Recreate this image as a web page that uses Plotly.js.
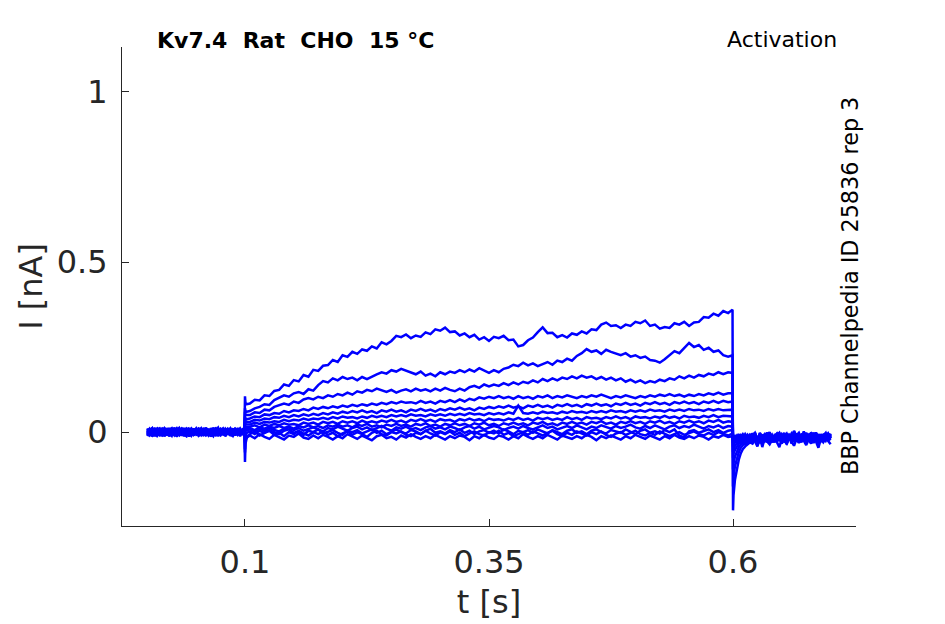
<!DOCTYPE html>
<html>
<head>
<meta charset="utf-8">
<script src="https://cdn.plot.ly/plotly-3.0.1.min.js"></script>
<style>
  html, body { margin: 0; padding: 0; background: #ffffff; }
  #chart { width: 945px; height: 624px; }
</style>
</head>
<body>
<div id="chart"></div>
<script>
/* --------------------------------------------------------------------------
   Kv7.4 activation sweeps, current (nA) against time (s), one array per sweep.
   Every sweep has 40 pre-pulse points, 4 around the 0.1 s step, 99 points
   during the pulse and 44 from the 0.6 s step to the end of the record.
   -------------------------------------------------------------------------- */

const time_s = [
  0, 0.0025, 0.005, 0.0075, 0.01, 0.0125, 0.015, 0.0175, 0.02, 0.0225, 0.025, 0.0275, 0.03, 0.0325, 0.035, 0.0375, 0.04, 0.0425, 0.045, 0.0475,
  0.05, 0.0525, 0.055, 0.0575, 0.06, 0.0625, 0.065, 0.0675, 0.07, 0.0725, 0.075, 0.0775, 0.08, 0.0825, 0.085, 0.0875, 0.09, 0.0925, 0.095, 0.0975,
  0.0995, 0.1, 0.1005, 0.102,
  0.105, 0.11, 0.115, 0.12, 0.125, 0.13, 0.135, 0.14, 0.145, 0.15,
  0.155, 0.16, 0.165, 0.17, 0.175, 0.18, 0.185, 0.19, 0.195, 0.2,
  0.205, 0.21, 0.215, 0.22, 0.225, 0.23, 0.235, 0.24, 0.245, 0.25,
  0.255, 0.26, 0.265, 0.27, 0.275, 0.28, 0.285, 0.29, 0.295, 0.3,
  0.305, 0.31, 0.315, 0.32, 0.325, 0.33, 0.335, 0.34, 0.345, 0.35,
  0.355, 0.36, 0.365, 0.37, 0.375, 0.38, 0.385, 0.39, 0.395, 0.4,
  0.405, 0.41, 0.415, 0.42, 0.425, 0.43, 0.435, 0.44, 0.445, 0.45,
  0.455, 0.46, 0.465, 0.47, 0.475, 0.48, 0.485, 0.49, 0.495, 0.5,
  0.505, 0.51, 0.515, 0.52, 0.525, 0.53, 0.535, 0.54, 0.545, 0.55,
  0.555, 0.56, 0.565, 0.57, 0.575, 0.58, 0.585, 0.59, 0.595,
  0.5995, 0.6, 0.6005, 0.602, 0.604, 0.606, 0.608, 0.61,
  0.6125, 0.615, 0.6175, 0.62, 0.6225, 0.625, 0.6275, 0.63, 0.6325, 0.635, 0.6375, 0.64, 0.6425, 0.645, 0.6475, 0.65, 0.6525, 0.655,
  0.6575, 0.66, 0.6625, 0.665, 0.6675, 0.67, 0.6725, 0.675, 0.6775, 0.68, 0.6825, 0.685, 0.6875, 0.69, 0.6925, 0.695, 0.6975, 0.7,
];

const sweepA = [
  0.004, -0.006, 0.009, 0.001, -0.009, 0.006, -0.002, 0.011, 0.003, -0.007, 0.005, -0.001, -0.011, 0.008, 0.002, -0.004, 0.012, -0.003, 0.006, -0.008,
  0.000, 0.007, -0.005, 0.010, -0.002, -0.010, 0.004, 0.008, -0.006, 0.002, 0.009, -0.004, -0.008, 0.005, 0.001, 0.011, -0.007, 0.003, -0.003, 0.006,
  0.002, 0.105, 0.086, 0.082,
  0.084, 0.095, 0.093, 0.108, 0.106, 0.121, 0.124, 0.140, 0.136, 0.153,
  0.149, 0.168, 0.163, 0.183, 0.180, 0.195, 0.197, 0.212, 0.206, 0.226,
  0.221, 0.236, 0.230, 0.243, 0.239, 0.252, 0.246, 0.264, 0.258, 0.268,
  0.283, 0.279, 0.287, 0.276, 0.284, 0.280, 0.293, 0.288, 0.302, 0.298,
  0.307, 0.294, 0.296, 0.284, 0.290, 0.279, 0.286, 0.272, 0.279, 0.268,
  0.280, 0.276, 0.283, 0.270, 0.272, 0.252, 0.256, 0.270, 0.278, 0.294,
  0.308, 0.291, 0.292, 0.279, 0.285, 0.278, 0.290, 0.286, 0.296, 0.290,
  0.302, 0.300, 0.316, 0.322, 0.312, 0.314, 0.306, 0.316, 0.312, 0.324,
  0.320, 0.328, 0.312, 0.316, 0.304, 0.309, 0.306, 0.320, 0.316, 0.324,
  0.312, 0.322, 0.324, 0.338, 0.336, 0.348, 0.342, 0.356, 0.350,
  0.360, -0.230, -0.185, -0.140, -0.105, -0.080, -0.062, -0.050,
  -0.042, -0.036, -0.030, -0.034, -0.022, -0.028, -0.016, -0.024, -0.012, -0.030, -0.018, -0.008, -0.022, -0.014, -0.026, -0.006, -0.018, -0.032,
  -0.010, -0.020, -0.004, -0.016, -0.028, -0.012, -0.022, -0.006, -0.018, -0.034, -0.012, -0.002, -0.020, -0.010, -0.026, -0.014, -0.004, -0.018,
];

const sweepB = [
  -0.005, 0.008, -0.012, 0.003, 0.010, -0.007, 0.001, -0.010, 0.012, -0.001, -0.004, 0.013, -0.008, 0.005, -0.011, 0.007, 0.000, 0.009, -0.006, 0.003,
  0.011, -0.003, -0.009, 0.006, -0.001, 0.010, -0.012, 0.004, 0.007, -0.005, -0.002, 0.012, -0.008, 0.002, 0.009, -0.010, 0.005, -0.004, 0.001, 0.008,
  -0.002, 0.070, 0.062, 0.060,
  0.062, 0.070, 0.074, 0.082, 0.080, 0.094, 0.100, 0.108, 0.104, 0.114,
  0.118, 0.112, 0.126, 0.122, 0.138, 0.150, 0.146, 0.158, 0.152, 0.162,
  0.156, 0.160, 0.152, 0.162, 0.156, 0.164, 0.170, 0.176, 0.172, 0.182,
  0.178, 0.186, 0.180, 0.176, 0.170, 0.178, 0.166, 0.172, 0.164, 0.176,
  0.170, 0.178, 0.174, 0.182, 0.176, 0.184, 0.178, 0.188, 0.180, 0.174,
  0.182, 0.176, 0.186, 0.190, 0.198, 0.194, 0.204, 0.196, 0.202, 0.194,
  0.200, 0.206, 0.198, 0.210, 0.206, 0.216, 0.210, 0.224, 0.232, 0.244,
  0.236, 0.240, 0.230, 0.242, 0.236, 0.230, 0.226, 0.232, 0.222, 0.226,
  0.218, 0.222, 0.212, 0.210, 0.204, 0.214, 0.226, 0.238, 0.232, 0.246,
  0.262, 0.250, 0.256, 0.242, 0.248, 0.236, 0.240, 0.226, 0.222,
  0.226, -0.160, -0.132, -0.100, -0.076, -0.058, -0.046, -0.038,
  -0.030, -0.024, -0.018, -0.028, -0.012, -0.022, -0.008, -0.026, -0.016, -0.004, -0.020, -0.030, -0.010, -0.018, -0.002, -0.024, -0.014, -0.036,
  -0.012, -0.020, -0.006, -0.026, -0.016, -0.008, -0.022, -0.030, -0.012, -0.004, -0.018, -0.010, -0.026, -0.014, -0.020, -0.006, -0.016, -0.024,
];

const sweepC = [
  0.009, -0.003, 0.005, -0.011, 0.002, 0.012, -0.007, 0.004, -0.002, 0.008, -0.010, 0.005, 0.011, -0.005, 0.000, -0.012, 0.007, 0.003, -0.009, 0.010,
  -0.004, 0.001, 0.008, -0.008, 0.013, -0.002, -0.006, 0.006, -0.011, 0.003, 0.009, -0.001, -0.007, 0.011, -0.003, 0.004, -0.010, 0.007, 0.000, -0.005,
  0.003, 0.060, 0.052, 0.050,
  0.050, 0.058, 0.056, 0.066, 0.064, 0.074, 0.078, 0.084, 0.080, 0.090,
  0.086, 0.096, 0.100, 0.096, 0.104, 0.100, 0.108, 0.104, 0.112, 0.108,
  0.116, 0.110, 0.120, 0.116, 0.124, 0.120, 0.128, 0.122, 0.118, 0.124,
  0.116, 0.122, 0.126, 0.120, 0.128, 0.122, 0.126, 0.120, 0.128, 0.122,
  0.130, 0.124, 0.120, 0.128, 0.122, 0.132, 0.136, 0.130, 0.140, 0.134,
  0.140, 0.136, 0.144, 0.138, 0.146, 0.140, 0.148, 0.144, 0.152, 0.146,
  0.156, 0.150, 0.158, 0.152, 0.160, 0.156, 0.164, 0.158, 0.166, 0.160,
  0.164, 0.156, 0.162, 0.154, 0.160, 0.152, 0.158, 0.148, 0.154, 0.146,
  0.152, 0.144, 0.150, 0.146, 0.154, 0.150, 0.158, 0.154, 0.164, 0.158,
  0.166, 0.160, 0.168, 0.164, 0.172, 0.168, 0.176, 0.170, 0.176,
  0.174, -0.110, -0.092, -0.072, -0.056, -0.044, -0.036, -0.030,
  -0.024, -0.032, -0.018, -0.026, -0.010, -0.022, -0.030, -0.014, -0.006, -0.020, -0.028, -0.012, -0.024, -0.004, -0.016, -0.034, -0.014, -0.022,
  -0.008, -0.018, -0.028, -0.010, -0.002, -0.020, -0.014, -0.026, -0.008, -0.018, -0.032, -0.012, -0.022, -0.006, -0.016, -0.026, -0.012, -0.020,
];

const sweepD = [
  -0.008, 0.004, 0.011, -0.002, -0.010, 0.007, 0.000, -0.005, 0.010, -0.012, 0.003, 0.009, -0.004, -0.009, 0.012, 0.002, -0.007, 0.005, 0.011, -0.003,
  0.006, -0.011, 0.001, 0.008, -0.006, 0.003, -0.009, 0.013, -0.001, -0.005, 0.007, -0.003, 0.010, -0.008, 0.002, -0.012, 0.005, 0.009, -0.004, 0.001,
  0.000, 0.045, 0.040, 0.038,
  0.040, 0.046, 0.044, 0.052, 0.050, 0.056, 0.054, 0.062, 0.058, 0.064,
  0.062, 0.068, 0.064, 0.072, 0.068, 0.074, 0.070, 0.076, 0.072, 0.078,
  0.074, 0.080, 0.076, 0.082, 0.078, 0.084, 0.080, 0.086, 0.082, 0.088,
  0.084, 0.090, 0.086, 0.088, 0.084, 0.092, 0.086, 0.090, 0.084, 0.092,
  0.088, 0.094, 0.088, 0.096, 0.090, 0.098, 0.094, 0.102, 0.098, 0.104,
  0.100, 0.106, 0.100, 0.104, 0.098, 0.106, 0.100, 0.104, 0.098, 0.106,
  0.102, 0.108, 0.100, 0.106, 0.102, 0.108, 0.104, 0.100, 0.106, 0.102,
  0.108, 0.104, 0.110, 0.104, 0.100, 0.106, 0.102, 0.108, 0.104, 0.100,
  0.106, 0.102, 0.108, 0.104, 0.110, 0.106, 0.112, 0.106, 0.110, 0.104,
  0.110, 0.106, 0.112, 0.108, 0.114, 0.110, 0.116, 0.110, 0.114,
  0.114, -0.075, -0.064, -0.052, -0.042, -0.034, -0.028, -0.024,
  -0.018, -0.028, -0.012, -0.022, -0.006, -0.020, -0.030, -0.010, -0.016, -0.002, -0.022, -0.014, -0.026, -0.008, -0.018, -0.032, -0.012, -0.004,
  -0.020, -0.010, -0.024, -0.016, -0.006, -0.028, -0.014, -0.020, -0.008, -0.024, -0.012, -0.002, -0.018, -0.026, -0.010, -0.016, -0.022, -0.008,
];

const sweepE = [
  0.003, -0.011, 0.007, 0.010, -0.003, -0.008, 0.012, 0.000, -0.007, 0.005, 0.011, -0.005, 0.002, 0.009, -0.010, 0.003, 0.010, -0.012, 0.000, 0.007,
  -0.004, 0.006, -0.009, 0.001, 0.012, -0.006, 0.004, -0.002, 0.008, -0.011, 0.005, -0.007, 0.010, 0.002, -0.004, 0.007, -0.009, 0.003, 0.011, -0.001,
  0.001, 0.036, 0.032, 0.030,
  0.030, 0.036, 0.034, 0.040, 0.038, 0.044, 0.042, 0.048, 0.044, 0.050,
  0.046, 0.052, 0.048, 0.054, 0.050, 0.056, 0.052, 0.058, 0.054, 0.060,
  0.056, 0.062, 0.058, 0.064, 0.058, 0.062, 0.056, 0.064, 0.060, 0.066,
  0.060, 0.064, 0.058, 0.066, 0.062, 0.068, 0.062, 0.066, 0.060, 0.068,
  0.064, 0.070, 0.066, 0.072, 0.066, 0.070, 0.064, 0.072, 0.068, 0.074,
  0.070, 0.076, 0.072, 0.078, 0.072, 0.076, 0.070, 0.078, 0.074, 0.080,
  0.074, 0.078, 0.072, 0.080, 0.076, 0.082, 0.076, 0.080, 0.074, 0.082,
  0.078, 0.084, 0.078, 0.082, 0.076, 0.084, 0.080, 0.086, 0.080, 0.084,
  0.078, 0.086, 0.082, 0.088, 0.082, 0.086, 0.080, 0.088, 0.084, 0.090,
  0.084, 0.088, 0.082, 0.090, 0.086, 0.092, 0.086, 0.092, 0.088,
  0.090, -0.058, -0.050, -0.040, -0.032, -0.026, -0.022, -0.018,
  -0.028, -0.012, -0.020, -0.006, -0.024, -0.014, -0.030, -0.008, -0.018, -0.002, -0.022, -0.012, -0.028, -0.016, -0.004, -0.020, -0.010, -0.026,
  -0.014, -0.034, -0.008, -0.018, -0.024, -0.006, -0.016, -0.028, -0.012, -0.002, -0.020, -0.010, -0.026, -0.014, -0.018, -0.006, -0.022, -0.012,
];

const sweepF = [
  -0.007, 0.010, 0.002, -0.010, 0.012, -0.002, -0.009, 0.008, 0.003, -0.012, 0.007, -0.003, 0.010, 0.000, -0.009, 0.012, -0.005, 0.002, 0.009, -0.010,
  0.004, -0.006, 0.011, -0.001, -0.008, 0.006, -0.012, 0.003, 0.009, -0.004, 0.001, 0.010, -0.007, 0.005, -0.002, -0.011, 0.008, 0.000, -0.005, 0.006,
  -0.001, 0.028, 0.024, 0.022,
  0.022, 0.028, 0.024, 0.030, 0.028, 0.032, 0.030, 0.036, 0.032, 0.036,
  0.034, 0.040, 0.036, 0.040, 0.038, 0.042, 0.038, 0.044, 0.040, 0.046,
  0.042, 0.044, 0.040, 0.046, 0.042, 0.048, 0.044, 0.048, 0.044, 0.050,
  0.046, 0.050, 0.046, 0.052, 0.048, 0.050, 0.046, 0.052, 0.048, 0.052,
  0.048, 0.054, 0.050, 0.054, 0.050, 0.056, 0.052, 0.054, 0.050, 0.056,
  0.052, 0.056, 0.052, 0.058, 0.054, 0.078, 0.056, 0.054, 0.058, 0.054,
  0.060, 0.056, 0.058, 0.054, 0.060, 0.056, 0.062, 0.058, 0.060, 0.056,
  0.062, 0.058, 0.062, 0.058, 0.064, 0.060, 0.062, 0.058, 0.064, 0.060,
  0.064, 0.060, 0.066, 0.062, 0.064, 0.060, 0.066, 0.062, 0.066, 0.062,
  0.068, 0.064, 0.066, 0.062, 0.068, 0.064, 0.068, 0.064, 0.066,
  0.066, -0.042, -0.036, -0.030, -0.024, -0.020, -0.016, -0.014,
  -0.022, -0.008, -0.018, -0.028, -0.010, -0.020, -0.004, -0.016, -0.026, -0.012, -0.006, -0.022, -0.014, -0.030, -0.008, -0.018, -0.002, -0.024,
  -0.012, -0.020, -0.006, -0.028, -0.016, -0.010, -0.022, -0.004, -0.018, -0.012, -0.026, -0.008, -0.016, -0.020, -0.010, -0.024, -0.006, -0.014,
];

const sweepG = [
  0.011, -0.005, -0.010, 0.007, 0.000, 0.010, -0.012, 0.005, -0.003, 0.012, -0.007, 0.002, -0.010, 0.008, 0.003, -0.009, 0.010, -0.003, -0.011, 0.005,
  -0.001, 0.008, -0.006, 0.012, -0.004, 0.001, -0.009, 0.006, 0.011, -0.002, -0.008, 0.004, -0.012, 0.007, 0.002, -0.005, 0.009, -0.001, -0.007, 0.003,
  0.000, 0.020, 0.016, 0.015,
  0.016, 0.020, 0.014, 0.022, 0.018, 0.024, 0.020, 0.026, 0.022, 0.024,
  0.020, 0.028, 0.024, 0.028, 0.022, 0.030, 0.026, 0.030, 0.024, 0.032,
  0.028, 0.032, 0.026, 0.034, 0.028, 0.032, 0.028, 0.034, 0.030, 0.036,
  0.030, 0.034, 0.028, 0.036, 0.032, 0.038, 0.032, 0.036, 0.030, 0.038,
  0.034, 0.036, 0.030, 0.038, 0.034, 0.040, 0.034, 0.038, 0.032, 0.040,
  0.036, 0.038, 0.034, 0.040, 0.036, 0.042, 0.036, 0.040, 0.034, 0.042,
  0.038, 0.042, 0.036, 0.040, 0.036, 0.044, 0.038, 0.042, 0.036, 0.044,
  0.040, 0.042, 0.038, 0.044, 0.040, 0.046, 0.040, 0.044, 0.038, 0.046,
  0.042, 0.044, 0.040, 0.046, 0.042, 0.048, 0.042, 0.046, 0.040, 0.048,
  0.044, 0.046, 0.042, 0.048, 0.044, 0.050, 0.044, 0.048, 0.046,
  0.046, -0.032, -0.028, -0.024, -0.020, -0.016, -0.014, -0.020,
  -0.010, -0.024, -0.014, -0.004, -0.020, -0.028, -0.008, -0.016, -0.026, -0.012, -0.002, -0.018, -0.030, -0.010, -0.020, -0.006, -0.016, -0.026,
  -0.012, -0.022, -0.004, -0.014, -0.032, -0.010, -0.018, -0.008, -0.024, -0.014, -0.002, -0.020, -0.012, -0.028, -0.006, -0.016, -0.022, -0.010,
];

const sweepH = [
  -0.010, 0.005, 0.012, -0.003, 0.007, -0.011, 0.003, 0.010, -0.008, 0.002, 0.005, -0.010, 0.012, -0.002, 0.007, -0.007, -0.012, 0.009, 0.003, -0.005,
  0.008, -0.004, 0.001, -0.009, 0.011, 0.004, -0.006, 0.000, 0.010, -0.012, 0.006, -0.002, -0.008, 0.009, 0.002, -0.005, 0.012, -0.009, 0.004, -0.001,
  0.002, 0.010, 0.012, 0.010,
  0.012, 0.006, 0.014, 0.010, 0.016, 0.012, 0.018, 0.012, 0.016, 0.010,
  0.018, 0.014, 0.020, 0.014, 0.018, 0.012, 0.020, 0.016, 0.022, 0.016,
  0.020, 0.014, 0.022, 0.018, 0.024, 0.016, 0.020, 0.014, 0.022, 0.018,
  0.024, 0.018, 0.022, 0.016, 0.024, 0.020, 0.026, 0.018, 0.022, 0.016,
  0.024, 0.020, 0.026, 0.020, 0.024, 0.018, 0.026, 0.022, 0.028, 0.020,
  0.024, 0.018, 0.026, 0.022, 0.028, 0.022, 0.026, 0.020, 0.028, 0.024,
  0.030, 0.022, 0.026, 0.020, 0.028, 0.024, 0.030, 0.024, 0.028, 0.022,
  0.030, 0.026, 0.032, 0.024, 0.028, 0.022, 0.030, 0.026, 0.032, 0.026,
  0.030, 0.024, 0.032, 0.028, 0.034, 0.026, 0.030, 0.024, 0.032, 0.028,
  0.034, 0.028, 0.032, 0.026, 0.034, 0.030, 0.036, 0.028, 0.032,
  0.030, -0.024, -0.020, -0.016, -0.012, -0.022, -0.010, -0.018,
  -0.006, -0.016, -0.026, -0.010, -0.002, -0.020, -0.012, -0.028, -0.008, -0.016, 0.000, -0.022, -0.014, -0.006, -0.024, -0.012, -0.030, -0.008,
  -0.018, -0.004, -0.014, -0.026, -0.010, -0.020, 0.002, -0.016, -0.008, -0.022, -0.012, -0.028, -0.006, -0.018, -0.010, -0.002, -0.020, -0.014,
];

const sweepI = [
  0.008, -0.009, 0.000, 0.011, -0.005, 0.003, 0.009, -0.010, 0.005, -0.002, -0.011, 0.007, 0.000, 0.010, -0.007, 0.005, 0.002, -0.010, 0.010, 0.000,
  -0.006, 0.012, -0.003, -0.008, 0.006, 0.001, -0.012, 0.004, 0.009, -0.004, -0.001, 0.007, -0.010, 0.003, 0.011, -0.006, 0.000, 0.008, -0.009, 0.005,
  -0.003, -0.030, 0.004, 0.006,
  0.008, 0.002, 0.010, 0.004, 0.012, 0.006, 0.002, 0.010, 0.014, 0.006,
  0.012, 0.004, 0.010, 0.014, 0.008, 0.002, 0.012, 0.008, 0.016, 0.010,
  0.004, 0.012, 0.016, 0.008, 0.014, 0.006, 0.012, 0.018, 0.010, 0.004,
  0.014, 0.010, 0.016, 0.008, 0.012, 0.006, 0.014, 0.018, 0.010, 0.014,
  0.008, 0.016, 0.012, 0.006, 0.014, 0.018, 0.010, 0.016, 0.008, 0.012,
  0.018, 0.014, 0.006, 0.012, 0.016, 0.010, 0.018, 0.012, 0.008, 0.014,
  0.020, 0.012, 0.016, 0.008, 0.014, 0.018, 0.012, 0.020, 0.014, 0.008,
  0.016, 0.012, 0.020, 0.014, 0.010, 0.018, 0.012, 0.016, 0.022, 0.014,
  0.010, 0.018, 0.012, 0.020, 0.014, 0.008, 0.016, 0.020, 0.012, 0.018,
  0.014, 0.022, 0.016, 0.010, 0.018, 0.014, 0.020, 0.012, 0.018,
  0.016, -0.018, -0.016, -0.012, -0.020, -0.010, -0.016, -0.008,
  -0.014, -0.024, -0.006, -0.018, -0.010, -0.028, -0.002, -0.016, -0.022, -0.008, -0.014, -0.030, -0.012, -0.004, -0.020, -0.010, -0.026, -0.016,
  -0.006, -0.022, 0.004, -0.014, -0.024, -0.010, -0.018, -0.002, -0.016, -0.028, -0.012, -0.006, -0.020, -0.014, -0.026, -0.008, -0.018, -0.004,
];

const sweepJ = [
  -0.003, 0.010, -0.012, 0.002, 0.009, -0.007, -0.002, 0.012, -0.010, 0.007, 0.000, -0.009, 0.005, 0.012, -0.005, 0.000, -0.010, 0.007, -0.002, 0.009,
  -0.006, 0.003, 0.011, -0.008, 0.001, -0.004, 0.008, -0.011, 0.004, 0.013, -0.003, -0.007, 0.006, 0.000, -0.009, 0.010, -0.001, 0.005, -0.012, 0.002,
  0.000, -0.060, -0.012, -0.002,
  0.002, -0.006, 0.004, -0.002, 0.006, 0.000, -0.006, 0.004, 0.008, -0.002,
  0.002, -0.008, 0.004, 0.000, 0.008, -0.004, 0.002, 0.006, -0.002, -0.008,
  0.004, 0.000, 0.006, -0.004, 0.002, 0.008, -0.002, 0.004, -0.006, 0.002,
  0.008, 0.000, -0.004, 0.006, 0.002, -0.006, 0.004, 0.010, -0.002, 0.002,
  -0.004, 0.006, 0.000, 0.008, -0.002, 0.004, -0.006, 0.002, 0.006, -0.002,
  0.004, -0.004, 0.008, 0.002, -0.006, 0.004, 0.000, 0.006, -0.002, 0.008,
  0.002, -0.004, 0.006, 0.000, -0.006, 0.004, 0.008, -0.002, 0.002, -0.006,
  0.004, 0.008, 0.000, -0.004, 0.006, 0.002, -0.002, 0.008, 0.000, -0.006,
  0.004, 0.008, -0.002, 0.002, -0.004, 0.006, 0.000, 0.008, -0.010, -0.016,
  0.002, 0.006, -0.002, 0.004, 0.008, 0.000, 0.006, -0.002, 0.004,
  0.006, -0.016, -0.014, -0.018, -0.010, -0.020, -0.012, -0.006,
  -0.018, -0.028, -0.008, -0.014, -0.002, -0.022, -0.012, -0.044, -0.016, -0.004, -0.020, -0.010, -0.026, -0.014, -0.006, -0.024, -0.012, -0.032,
  -0.008, -0.016, 0.002, -0.020, -0.012, -0.026, -0.006, -0.018, -0.010, -0.030, -0.014, -0.004, -0.022, -0.012, -0.018, -0.008, -0.024, -0.014,
];

const sweepK = [
  0.005, -0.007, 0.009, -0.012, 0.003, 0.010, -0.009, 0.002, 0.007, -0.005, 0.012, -0.003, -0.010, 0.003, 0.010, -0.007, 0.005, -0.013, 0.002, 0.007,
  -0.004, 0.009, -0.001, -0.011, 0.006, -0.006, 0.011, 0.000, -0.008, 0.004, -0.002, 0.010, -0.009, 0.001, 0.008, -0.012, 0.003, 0.006, -0.005, 0.000,
  0.000, -0.088, -0.034, -0.014,
  -0.006, 0.002, -0.010, -0.002, 0.004, -0.008, -0.002, -0.012, 0.000, -0.006,
  0.004, -0.004, -0.010, 0.000, -0.006, 0.002, -0.008, -0.002, -0.012, -0.004,
  0.002, -0.008, 0.000, -0.006, -0.014, -0.002, 0.004, -0.006, -0.010, 0.000,
  -0.004, 0.002, -0.008, -0.012, -0.002, -0.006, 0.004, -0.004, -0.010, 0.000,
  -0.006, 0.002, -0.008, -0.002, -0.012, -0.004, 0.002, -0.006, -0.010, 0.000,
  -0.004, 0.004, -0.008, -0.002, -0.012, -0.006, 0.000, -0.008, 0.002, -0.004,
  -0.010, -0.002, 0.004, -0.006, -0.012, -0.002, -0.008, 0.002, -0.004, -0.010,
  0.000, -0.006, 0.002, -0.008, -0.014, -0.004, 0.000, -0.008, -0.002, 0.004,
  -0.006, -0.010, -0.002, -0.008, 0.002, -0.004, -0.012, -0.006, 0.000, -0.008,
  -0.002, 0.002, -0.006, -0.010, -0.002, -0.008, 0.000, -0.004, -0.010,
  -0.004, -0.014, -0.022, -0.010, -0.018, -0.006, -0.024, -0.014,
  -0.030, -0.010, -0.020, -0.004, -0.016, -0.026, -0.008, -0.036, -0.012, -0.022, -0.006, -0.018, -0.028, -0.010, -0.002, -0.020, -0.014, -0.032,
  -0.008, -0.024, -0.012, -0.004, -0.020, -0.030, -0.010, -0.016, -0.026, -0.006, -0.022, -0.012, -0.034, -0.008, -0.018, -0.014, -0.026, -0.006,
];

const sweepL = [
  -0.012, 0.002, -0.007, 0.007, -0.010, -0.002, 0.005, -0.012, 0.000, 0.009, -0.007, 0.003, -0.013, -0.003, 0.007, -0.010, 0.000, 0.005, -0.009, -0.003,
  0.004, -0.011, -0.005, 0.008, -0.008, 0.001, -0.004, -0.012, 0.006, -0.001, -0.009, 0.003, -0.006, 0.010, -0.011, -0.002, 0.005, -0.008, 0.001, -0.005,
  -0.004, -0.050, -0.022, -0.016,
  -0.010, -0.018, -0.006, -0.014, -0.020, -0.008, -0.016, -0.022, -0.010, -0.014,
  -0.004, -0.016, -0.020, -0.010, -0.018, -0.008, -0.014, -0.022, -0.012, -0.018,
  -0.006, -0.014, -0.020, -0.010, -0.016, -0.024, -0.012, -0.008, -0.018, -0.014,
  -0.022, -0.010, -0.016, -0.006, -0.014, -0.020, -0.012, -0.018, -0.008, -0.016,
  -0.022, -0.012, -0.018, -0.010, -0.014, -0.024, -0.012, -0.018, -0.008, -0.016,
  -0.020, -0.010, -0.014, -0.022, -0.012, -0.018, -0.006, -0.014, -0.020, -0.012,
  -0.018, -0.008, -0.016, -0.022, -0.010, -0.016, -0.020, -0.012, -0.018, -0.008,
  -0.014, -0.024, -0.012, -0.018, -0.010, -0.016, -0.022, -0.012, -0.018, -0.008,
  -0.014, -0.020, -0.010, -0.016, -0.022, -0.012, -0.018, -0.008, -0.016, -0.020,
  -0.012, -0.018, -0.010, -0.014, -0.022, -0.012, -0.016, -0.008, -0.014,
  -0.012, -0.026, -0.032, -0.020, -0.028, -0.016, -0.034, -0.024,
  -0.038, -0.018, -0.030, -0.012, -0.026, -0.042, -0.020, -0.032, -0.014, -0.028, -0.036, -0.022, -0.010, -0.030, -0.044, -0.018, -0.026, -0.034,
  -0.016, -0.028, -0.040, -0.020, -0.030, -0.012, -0.024, -0.038, -0.022, -0.032, -0.016, -0.028, -0.046, -0.020, -0.030, -0.018, -0.026, -0.036,
];

const sweeps = [sweepA, sweepB, sweepC, sweepD, sweepE, sweepF, sweepG, sweepH, sweepI, sweepJ, sweepK, sweepL];

const xTickVals = [0.1, 0.35, 0.6];
const xTickText = ["0.1", "0.35", "0.6"];
const yTickVals = [0, 0.5, 1];
const yTickText = ["0", "0.5", "1"];

const titleText = "<b>Kv7.4  Rat  CHO  15 °C</b>";
const protocolText = "Activation";
const sourceText = "BBP Channelpedia ID 25836 rep 3";

/* ------------------------------- chart -------------------------------- */

sweeps.forEach((s, i) => {
  if (s.length !== time_s.length) {
    throw new Error(`sweep ${i} has ${s.length} points, expected ${time_s.length}`);
  }
});

const INK = "#262626";
const FONT = "DejaVu Sans, Liberation Sans, sans-serif";

const traces = sweeps.map((y) => ({
  type: "scatter",
  mode: "lines",
  x: time_s,
  y: y,
  line: { color: "#0000ff", width: 2.5 },
  hoverinfo: "skip",
  showlegend: false,
}));

const axisCommon = {
  ticks: "inside",
  ticklen: 7,
  tickwidth: 1,
  tickcolor: INK,
  showline: true,
  linecolor: INK,
  linewidth: 1,
  showgrid: false,
  zeroline: false,
  tickmode: "array",
  tickfont: { family: FONT, size: 32, color: INK },
};

const layout = {
  width: 945,
  height: 624,
  paper_bgcolor: "#ffffff",
  plot_bgcolor: "#ffffff",
  font: { family: FONT, color: INK, size: 22 },
  margin: { l: 122, r: 89, t: 47, b: 98 },
  showlegend: false,
  xaxis: Object.assign({}, axisCommon, {
    range: [-0.026, 0.726],
    tickvals: xTickVals,
    ticktext: xTickText,
    ticklabelstandoff: 8,
    title: { text: "t [s]", font: { family: FONT, size: 32, color: INK }, standoff: 10 },
  }),
  yaxis: Object.assign({}, axisCommon, {
    range: [-0.276, 1.132],
    tickvals: yTickVals,
    ticktext: yTickText,
    ticklabelstandoff: 7,
    title: { text: "I [nA]", font: { family: FONT, size: 32, color: INK }, standoff: 4 },
  }),
  annotations: [
    {
      xref: "paper", yref: "paper", x: 0.045, y: 1.0146,
      xanchor: "left", yanchor: "middle", showarrow: false,
      text: titleText,
      font: { family: FONT, size: 22, color: "#000000" },
    },
    {
      xref: "paper", yref: "paper", x: 0.9775, y: 1.0167,
      xanchor: "right", yanchor: "middle", showarrow: false,
      text: protocolText,
      font: { family: FONT, size: 22, color: "#000000" },
    },
    {
      xref: "paper", yref: "paper", x: 0.9918, y: 0.501,
      xanchor: "center", yanchor: "middle", showarrow: false,
      textangle: -90,
      text: sourceText,
      font: { family: FONT, size: 22.3, color: "#000000" },
    },
  ],
};

Plotly.newPlot("chart", traces, layout, { displayModeBar: false, staticPlot: true });
</script>
</body>
</html>
